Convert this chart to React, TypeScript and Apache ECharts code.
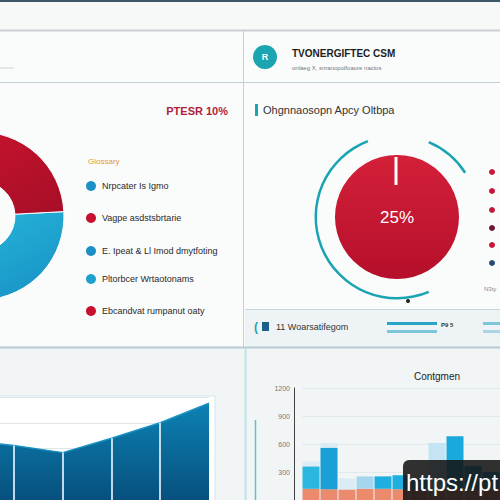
import React, { useEffect, useRef } from "react";
import * as echarts from "echarts";

// ---- data ----
const leftDonutNames = ["Segment A", "Segment B"];
const leftDonutValues = [50, 50];

const legendLabels = [
  "Nrpcater Is Igmo",
  "Vagpe asdstsbrtarie",
  "E. Ipeat & Ll Imod dmytfoting",
  "Pltorbcer Wrtaotonams",
  "Ebcandvat rumpanut oaty",
];
const legendColors = ["#1c8fc6", "#c8102e", "#1c8fc6", "#20a0cc", "#c8102e"];

const gaugeValue = [100];
const gaugeLabel = "25%";
const ringValues = [182, 100, 34, 44];
const ringColors = ["#1aa3b3", "transparent", "#1aa3b3", "transparent"];

const dotColors = ["#c8153a", "#c8153a", "#c01a3a", "#6e1530", "#c8153a", "#2a4a7a"];

const areaIndex = [0, 1, 2, 3, 4, 5];
const areaValues = [58, 53, 46, 60, 75, 94];

const barCategories = ["C1", "C2", "C3", "C4", "C5", "C6", "C7", "C8", "C9", "C10", "C11"];
const barBack = [411, 611, 232, 0, 0, 0, 0, 0, 0, 0, 0];
const barBase = [120, 115, 110, 120, 120, 115, 110, 120, 120, 115, 120];
const barFront = [238, 443, 0, 133, 133, 150, 120, 491, 564, 250, 180];
const barFrontColors = ["#2bb6e0", "#1a9fd6", "#2bb6e0", "#a6d6ee", "#1eaee0", "#1eaee0", "#1eaee0", "#c4e4f3", "#1ba8da", "#1ba8da", "#1ba8da"];

export default function App() {
  const ref = useRef<HTMLDivElement>(null);
  useEffect(() => {
    if (!ref.current) return;
    const chart = echarts.init(ref.current, undefined, { renderer: "svg" });
    const txt = (x: number, y: number, text: string, fill: string, size: number, weight = "normal", align = "left", z = 5) => ({
      type: "text",
      x,
      y,
      z,
      style: {
        text,
        fill,
        font: `${weight} ${size}px "Liberation Sans", Arial, sans-serif`,
        textAlign: align,
        align,
        textVerticalAlign: "middle",
        verticalAlign: "middle",
      },
    });
    const line = (x1: number, y1: number, x2: number, y2: number, stroke: string, w = 1, z = 1) => ({
      type: "line",
      z,
      shape: { x1, y1, x2, y2 },
      style: { stroke, lineWidth: w },
    });
    const rect = (x: number, y: number, w: number, h: number, fill: string, stroke?: string, z = 0, r = 0) => ({
      type: "rect",
      z,
      shape: { x, y, width: w, height: h, r },
      style: { fill, stroke: stroke || "none", lineWidth: 1 },
    });

    const legendGraphics: any[] = [];
    const legendY = [186, 218, 251, 279, 311];
    legendLabels.forEach((l, i) => {
      legendGraphics.push({ type: "circle", z: 5, shape: { cx: 91, cy: legendY[i], r: 5 }, style: { fill: legendColors[i] } });
      legendGraphics.push(txt(102, legendY[i], l, "#2a2a2a", 9));
    });
    const dotGraphics: any[] = dotColors.map((c, i) => ({
      type: "circle",
      z: 5,
      shape: { cx: 492, cy: [172, 191, 210, 228, 245, 263][i], r: 3 },
      style: { fill: c },
    }));

    chart.setOption({
      animation: false,
      backgroundColor: "#f4f7f8",
      graphic: [
        rect(0, 0, 500, 30, "#f7f8f8"),
        rect(0, 0, 500, 2, "#3d5868"),
        rect(0, 31, 500, 316, "#fafbfb"),
        rect(0, 348, 500, 152, "#f2f5f6"),
        rect(245, 309, 255, 38, "#eef3f5"),
        line(0, 30.5, 500, 30.5, "#c9cfd2", 2),
        line(0, 82.5, 500, 82.5, "#bfcfd6", 1),
        line(243.5, 31, 243.5, 347, "#bfd3da", 1),
        line(245, 309.5, 500, 309.5, "#c6d8df", 1),
        line(0, 347.5, 500, 347.5, "#b8cbd3", 2),
        line(245.5, 348, 245.5, 500, "#bde3e8", 2),
        line(255.5, 420, 255.5, 500, "#5cc0c8", 1.5),
        line(0, 68, 14, 68, "#cdd5d8", 1),
        { type: "circle", z: 5, shape: { cx: 265, cy: 57, r: 12 }, style: { fill: "#1ba5b0" } },
        txt(265, 57, "R", "#ffffff", 9, "bold", "center"),
        txt(292, 53, "TVONERGIFTEC CSM", "#1d1d1d", 10, "bold"),
        txt(292, 68, "onlaeg X, snranopolfoaore naclos", "#777", 6),
        txt(228, 111, "PTESR 10%", "#b01c3c", 11, "bold", "right"),
        txt(88, 161, "Glossary", "#e09a3c", 8),
        ...legendGraphics,
        rect(255, 104, 3, 12, "#1ba5b0", undefined, 5),
        txt(263, 110, "Ohgnnaosopn Apcy Oltbpa", "#333", 11),
        line(396, 157, 396, 185, "#ffffff", 3, 10),
        txt(397, 217, gaugeLabel, "#ffffff", 17, "normal", "center", 10),
        { type: "circle", z: 10, shape: { cx: 408, cy: 301, r: 2 }, style: { fill: "#222" } },
        ...dotGraphics,
        txt(484, 289, "N3ty", "#888", 6),
        txt(254, 327, "(", "#1ba5b0", 12, "bold"),
        rect(262, 322, 7, 9, "#1d5f8a", undefined, 5),
        txt(276, 327, "11 Woarsatifegom", "#333", 9),
        rect(387, 322, 50, 3, "#2aa5c5", undefined, 5),
        rect(387, 330, 50, 3, "#7cc5da", undefined, 5),
        txt(441, 325, "P9 5", "#333", 6, "bold"),
        rect(483, 322, 17, 3, "#7cc5da", undefined, 5),
        rect(483, 330, 17, 3, "#a8d6e4", undefined, 5),
        rect(-5, 396, 220, 110, "#ffffff", "#cfe6ea", 0),
        txt(437, 376, "Contgmen", "#222", 10, "normal", "center"),
        rect(403, 460, 110, 45, "rgba(20,20,20,0.88)", undefined, 100, 6),
        txt(406, 482, "https://pt", "#ffffff", 24, "normal", "left", 101),
      ],
      grid: [
        { left: 0, right: 291, top: 397, bottom: -20 },
        { left: 302, right: -5, top: 388, bottom: -2 },
      ],
      xAxis: [
        {
          gridIndex: 0,
          type: "value",
          min: 0.713,
          max: 5,
          show: false,
          splitLine: { show: false },
        },
        {
          gridIndex: 1,
          type: "category",
          data: barCategories,
          axisLine: { show: false },
          axisTick: { show: false },
          axisLabel: { show: false },
        },
      ],
      yAxis: [
        {
          gridIndex: 0,
          type: "value",
          min: 0,
          max: 100,
          interval: 25,
          axisLine: { show: false },
          axisTick: { show: false },
          axisLabel: { show: false },
          splitLine: { lineStyle: { color: "#dfe5e8" } },
        },
        {
          gridIndex: 1,
          type: "value",
          min: 0,
          max: 1200,
          interval: 300,
          offset: 8,
          axisLine: { show: true, lineStyle: { color: "#444", width: 1 } },
          axisTick: { show: false },
          axisLabel: {
            color: "#777",
            fontSize: 7,
            margin: 4,
            formatter: (v: number) => (v === 0 ? "" : String(v)),
          },
          splitLine: { lineStyle: { color: "#e3e8ea" } },
        },
      ],
      series: [
        {
          type: "pie",
          center: [-20, 216],
          radius: [35, 84],
          startAngle: 3,
          silent: true,
          label: { show: false },
          itemStyle: { borderColor: "#ffffff", borderWidth: 1 },
          data: leftDonutNames.map((n, i) => ({
            name: n,
            value: leftDonutValues[i],
            itemStyle: {
              color: new echarts.graphic.LinearGradient(0, 0, 1, 1, [
                { offset: 0, color: i === 0 ? "#2cc0df" : "#d0152f" },
                { offset: 1, color: i === 0 ? "#168fc4" : "#a50e27" },
              ]),
            },
          })),
        },
        {
          type: "pie",
          center: [397, 217],
          radius: [0, 62],
          silent: true,
          label: { show: false },
          data: gaugeValue.map((v) => ({
            value: v,
            itemStyle: {
              color: new echarts.graphic.LinearGradient(0, 0, 0, 1, [
                { offset: 0, color: "#d42039" },
                { offset: 1, color: "#b50f2b" },
              ]),
            },
          })),
        },
        {
          type: "pie",
          center: [397, 217],
          radius: [80, 82.5],
          startAngle: 111,
          clockwise: false,
          silent: true,
          label: { show: false },
          data: ringValues.map((v, i) => ({ value: v, itemStyle: { color: ringColors[i] } })),
        },
        {
          type: "line",
          xAxisIndex: 0,
          yAxisIndex: 0,
          data: areaIndex.map((x, i) => [x, areaValues[i]]),
          symbol: "none",
          clip: true,
          lineStyle: { color: "#1c93c4", width: 1.5 },
          areaStyle: {
            opacity: 1,
            color: new echarts.graphic.LinearGradient(0, 0, 0, 1, [
              { offset: 0, color: "#0c82b3" },
              { offset: 1, color: "#07507e" },
            ]),
          },
          markLine: {
            silent: true,
            symbol: "none",
            label: { show: false },
            lineStyle: { color: "rgba(225,240,248,0.85)", width: 2, type: "solid" },
            data: areaIndex.slice(1, 5).map((x) => [
              { coord: [x, 0] },
              { coord: [x, areaValues[x]] },
            ]),
          },
          silent: true,
        },
        {
          type: "bar",
          xAxisIndex: 1,
          yAxisIndex: 1,
          data: barBack,
          barWidth: 17,
          barGap: "-100%",
          itemStyle: { color: "#dcecf4" },
          silent: true,
        },
        {
          type: "bar",
          xAxisIndex: 1,
          yAxisIndex: 1,
          stack: "s",
          data: barBase,
          barWidth: 17,
          barGap: "-100%",
          itemStyle: { color: "#ec8a6e" },
          silent: true,
        },
        {
          type: "bar",
          xAxisIndex: 1,
          yAxisIndex: 1,
          stack: "s",
          data: barFront.map((v, i) => ({ value: v, itemStyle: { color: barFrontColors[i] } })),
          barWidth: 17,
          barGap: "-100%",
          silent: true,
        },
      ],
    });
    return () => chart.dispose();
  }, []);
  return <div ref={ref} style={{ position: "fixed", left: 0, top: 0, width: 500, height: 500 }} />;
}
